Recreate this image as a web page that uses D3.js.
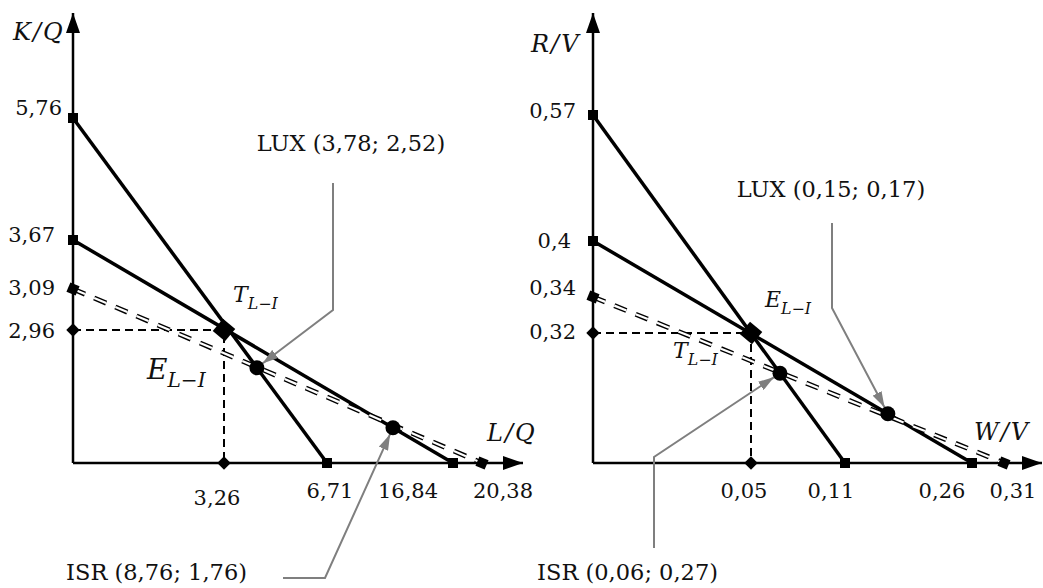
<!DOCTYPE html>
<html lang="en">
<head>
  <meta charset="UTF-8" />
  <title>Isoquant diagrams</title>
  <script src="https://d3js.org/d3.v7.min.js"></script>
  <style>
    body {
      margin: 0;
      background: #fff;
      overflow: hidden;
    }
    text {
      font-family: "DejaVu Serif", serif;
      fill: #111;
    }
    .num {
      font-size: 21px;
    }
    .note {
      font-size: 22.5px;
    }
    .math {
      font-style: italic;
    }
  </style>
</head>
<body>
  <script>
    // Tick values on the four axes (schematic, not to scale)
    const kqTicks = [2.96, 3.09, 3.67, 5.76];
    const lqTicks = [3.26, 6.71, 16.84, 20.38];
    const rvTicks = [0.32, 0.34, 0.4, 0.57];
    const wvTicks = [0.05, 0.11, 0.26, 0.31];

    // Lines: intercept on the vertical axis -> intercept on the horizontal axis
    const leftLines = [
      { y0: 5.76, x1: 6.71, kind: "solid" },
      { y0: 3.67, x1: 16.84, kind: "solid" },
      { y0: 3.09, x1: 20.38, kind: "double" }
    ];
    const rightLines = [
      { y0: 0.57, x1: 0.11, kind: "solid" },
      { y0: 0.4, x1: 0.26, kind: "solid" },
      { y0: 0.34, x1: 0.31, kind: "double" }
    ];

    // Intersection points
    const leftPoint = { x: 3.26, y: 2.96 };
    const rightPoint = { x: 0.05, y: 0.32 };

    // Countries: values, the line they sit on, share of the way along it
    const leftCountries = [
      { name: "LUX", x: 3.78, y: 2.52, line: 0, t: 0.724 },
      { name: "ISR", x: 8.76, y: 1.76, line: 1, t: 0.842 }
    ];
    const rightCountries = [
      { name: "ISR", x: 0.06, y: 0.27, line: 0, t: 0.742 },
      { name: "LUX", x: 0.15, y: 0.17, line: 1, t: 0.778 }
    ];

    const fmt = v => String(v).replace(".", ",");

    const width = 1043, height = 588;
    const svg = d3.select("body").append("svg")
      .attr("width", width)
      .attr("height", height);

    const defs = svg.append("defs");
    defs.append("marker")
      .attr("id", "axisArrow")
      .attr("markerUnits", "userSpaceOnUse")
      .attr("viewBox", "0 0 20 14")
      .attr("markerWidth", 20).attr("markerHeight", 14)
      .attr("refX", 20).attr("refY", 7)
      .attr("orient", "auto")
      .append("path").attr("d", "M0,0L20,7L0,14Z").attr("fill", "#000");
    defs.append("marker")
      .attr("id", "greyArrow")
      .attr("markerUnits", "userSpaceOnUse")
      .attr("viewBox", "0 0 16 10")
      .attr("markerWidth", 16).attr("markerHeight", 10)
      .attr("refX", 16).attr("refY", 5)
      .attr("orient", "auto")
      .append("path").attr("d", "M0,0L16,5L0,10Z").attr("fill", "#7f7f7f");

    // Panel layout (piecewise scales, the figure is schematic)
    const panels = [
      {
        yTicks: kqTicks, xTicks: lqTicks, lines: leftLines, point: leftPoint, countries: leftCountries,
        x: d3.scaleLinear().domain([0, 3.26, 6.71, 16.84, 20.38]).range([73, 224, 327, 453, 482]),
        y: d3.scaleLinear().domain([0, 2.96, 3.09, 3.67, 5.76]).range([463, 330, 289, 240, 118]),
        xEnd: 523, yEnd: 13,
        yLab: { x: 55, dy: [8, 6, 2, -3], dx: [0, 0, 0, 7] },
        xLab: { y: 498, dx: [-7, 3, -45, 21], dy: [7, 0, 0, 0] },
        yName: ["K", "Q", 13, 40], xName: ["L", "Q", 487, 441],
        pName: { text: "E", x: 147, y: 379, size: 28 },
        tName: { text: "T", x: 233, y: 302, size: 22 },
        leaders: [
          { label: [351, 151, "middle"], path: [[333, 183], [333, 310]] },
          { label: [247, 580, "end"], path: [[283, 578], [325, 578]] }
        ]
      },
      {
        yTicks: rvTicks, xTicks: wvTicks, lines: rightLines, point: rightPoint, countries: rightCountries,
        x: d3.scaleLinear().domain([0, 0.05, 0.11, 0.26, 0.31]).range([593, 751, 845, 972, 1004]),
        y: d3.scaleLinear().domain([0, 0.32, 0.34, 0.4, 0.57]).range([463, 333, 297, 241, 115]),
        xEnd: 1042, yEnd: 13,
        yLab: { x: 576, dy: [6, -2, 7, 3], dx: [0, 0, -5, 0] },
        xLab: { y: 498, dx: [-7, -14, -30, 9], dy: [0, 0, 0, 0] },
        yName: ["R", "V", 531, 52], xName: ["W", "V", 974, 440],
        pName: { text: "E", x: 765, y: 307, size: 22 },
        tName: { text: "T", x: 673, y: 358, size: 22 },
        leaders: [
          { label: [718, 580, "end"], path: [[654, 548], [654, 457]] },
          { label: [831, 197, "middle"], path: [[832, 223], [832, 308]] }
        ]
      }
    ];

    function squareAt(g, cx, cy, size, angle) {
      g.append("rect")
        .attr("x", -size / 2).attr("y", -size / 2)
        .attr("width", size).attr("height", size)
        .attr("fill", "#000")
        .attr("transform", `translate(${cx},${cy}) rotate(${angle})`);
    }

    function mathLabel(g, base, sub, x, y, size) {
      const t = g.append("text")
        .attr("class", "math")
        .attr("x", x).attr("y", y)
        .style("font-size", size + "px");
      t.append("tspan").text(base);
      t.append("tspan")
        .attr("dy", size * 0.3)
        .style("font-size", (size * 0.72) + "px")
        .text(sub);
    }

    panels.forEach(p => {
      const g = svg.append("g");
      const x0 = p.x(0), y0 = p.y(0);

      // axes
      g.append("line")
        .attr("x1", x0).attr("y1", y0).attr("x2", p.xEnd).attr("y2", y0)
        .attr("stroke", "#000").attr("stroke-width", 2.5)
        .attr("marker-end", "url(#axisArrow)");
      g.append("line")
        .attr("x1", x0).attr("y1", y0).attr("x2", x0).attr("y2", p.yEnd)
        .attr("stroke", "#000").attr("stroke-width", 2.5)
        .attr("marker-end", "url(#axisArrow)");

      // axis names
      [p.yName, p.xName].forEach(n => {
        g.append("text").attr("class", "math")
          .attr("x", n[2]).attr("y", n[3])
          .style("font-size", "24px").style("letter-spacing", "2px")
          .text(n[0] + "/" + n[1]);
      });

      // projection lines from the intersection point
      const px = p.x(p.point.x), py = p.y(p.point.y);
      g.append("path")
        .attr("d", `M${x0},${py}H${px}V${y0}`)
        .attr("fill", "none").attr("stroke", "#000")
        .attr("stroke-width", 2).attr("stroke-dasharray", "8,5");

      // lines
      p.lines.forEach(l => {
        const ax = x0, ay = p.y(l.y0), bx = p.x(l.x1), by = y0;
        if (l.kind === "double") {
          g.append("line")
            .attr("x1", ax).attr("y1", ay).attr("x2", bx).attr("y2", by)
            .attr("stroke", "#000").attr("stroke-width", 5)
            .attr("stroke-dasharray", "13,10");
          g.append("line")
            .attr("x1", ax).attr("y1", ay).attr("x2", bx).attr("y2", by)
            .attr("stroke", "#fff").attr("stroke-width", 2.2)
            .attr("stroke-dasharray", "13,10");
        } else {
          g.append("line")
            .attr("x1", ax).attr("y1", ay).attr("x2", bx).attr("y2", by)
            .attr("stroke", "#000").attr("stroke-width", 3.5);
        }
        const ang = Math.atan2(by - ay, bx - ax) * 180 / Math.PI;
        const rot = l.kind === "double" ? ang : 0;
        squareAt(g, ax, ay, 10, rot);
        squareAt(g, bx, by, 10, rot);
      });

      // diamonds on the axes and the big one at the intersection
      squareAt(g, x0, py, 9.5, 45);
      squareAt(g, px, y0, 9.5, 45);
      squareAt(g, px, py, 16, 40);

      // tick labels
      p.yTicks.forEach((v, i) => {
        g.append("text").attr("class", "num")
          .attr("x", p.yLab.x + p.yLab.dx[i]).attr("y", p.y(v) + p.yLab.dy[i])
          .attr("text-anchor", "end")
          .text(fmt(v));
      });
      p.xTicks.forEach((v, i) => {
        g.append("text").attr("class", "num")
          .attr("x", p.x(v) + p.xLab.dx[i]).attr("y", p.xLab.y + p.xLab.dy[i])
          .attr("text-anchor", "middle")
          .text(fmt(v));
      });

      mathLabel(g, p.pName.text, "L\u2212I", p.pName.x, p.pName.y, p.pName.size);
      mathLabel(g, p.tName.text, "L\u2212I", p.tName.x, p.tName.y, p.tName.size);

      // countries with grey leaders
      p.countries.forEach((c, i) => {
        const l = p.lines[c.line];
        const ax = x0, ay = p.y(l.y0), bx = p.x(l.x1), by = y0;
        const cx = ax + (bx - ax) * c.t, cy = ay + (by - ay) * c.t;
        const ld = p.leaders[i];
        const bend = ld.path[ld.path.length - 1];
        const dx = bend[0] - cx, dy = bend[1] - cy, len = Math.hypot(dx, dy);
        const tip = [cx + dx / len * 7, cy + dy / len * 7];
        g.append("path")
          .attr("d", d3.line()([...ld.path, tip]))
          .attr("fill", "none").attr("stroke", "#7f7f7f").attr("stroke-width", 2)
          .attr("marker-end", "url(#greyArrow)");
        g.append("circle")
          .attr("cx", cx).attr("cy", cy).attr("r", 7.5)
          .attr("fill", "#000");
        g.append("text").attr("class", "note")
          .attr("x", ld.label[0]).attr("y", ld.label[1])
          .attr("text-anchor", ld.label[2])
          .text(`${c.name} (${fmt(c.x)}; ${fmt(c.y)})`);
      });
    });
  </script>
</body>
</html>
